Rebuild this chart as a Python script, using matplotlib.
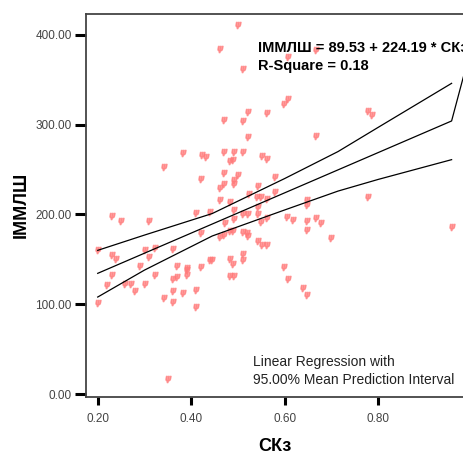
import matplotlib
matplotlib.use('Agg')
import matplotlib.pyplot as plt

plt.rcParams['font.family'] = ['Liberation Sans', 'DejaVu Sans']

# scatter values (СКз, ІММЛШ)
ck = [0.501, 0.462, 0.511, 0.608, 0.668, 0.470, 0.607, 0.598, 0.522, 0.562,
      0.511, 0.522, 0.668, 0.778, 0.787,
      0.382, 0.423, 0.431, 0.342, 0.421, 0.471, 0.491, 0.511, 0.489, 0.551,
      0.562, 0.483, 0.470, 0.501, 0.491, 0.491, 0.471, 0.462, 0.579, 0.542,
      0.523, 0.580, 0.462, 0.482, 0.541, 0.550, 0.562, 0.648, 0.648, 0.778,
      0.231, 0.250, 0.310, 0.410, 0.441, 0.491, 0.542, 0.473, 0.491, 0.511,
      0.522, 0.542, 0.550, 0.562, 0.604, 0.618, 0.648, 0.668, 0.678, 0.648,
      0.700, 0.957,
      0.421, 0.462, 0.471, 0.482, 0.489, 0.511, 0.519, 0.522, 0.542, 0.551,
      0.562,
      0.200, 0.231, 0.239, 0.302, 0.323, 0.362, 0.309, 0.290, 0.369, 0.390,
      0.421, 0.441, 0.482, 0.490, 0.511, 0.511, 0.444, 0.598, 0.608, 0.639,
      0.647, 0.482, 0.492,
      0.231, 0.219, 0.259, 0.271, 0.280, 0.302, 0.323, 0.342, 0.362, 0.370,
      0.362, 0.362, 0.382, 0.391, 0.390, 0.410, 0.410, 0.200, 0.351]
immlsh = [411, 384, 362, 375, 383, 305, 328, 323, 314, 313,
          304, 286, 287, 315, 311,
          268, 266, 264, 253, 240, 269, 269, 269, 261, 265,
          262, 259, 246, 244, 238, 234, 234, 229, 242, 232,
          223, 225, 216, 214, 219, 219, 217, 216, 210, 219,
          198, 193, 193, 202, 203, 205, 208, 190, 195, 200,
          201, 200, 192, 196, 197, 194, 193, 196, 190, 183,
          174, 186,
          179, 175, 177, 181, 182, 180, 179, 176, 170, 166,
          166,
          160, 155, 150, 160, 163, 162, 153, 143, 143, 140,
          141, 149, 150, 145, 156, 149, 149, 141, 128, 118,
          110, 131, 131,
          133, 121, 122, 123, 115, 122, 133, 107, 128, 130,
          115, 102, 112, 133, 138, 116, 97, 101, 17]

# fit line and 95% mean prediction interval, read at a few x positions
fit_x = [0.200, 0.957, 1.000]
fit_y = [134.4, 304.1, 388.0]
band_x = [0.200, 0.300, 0.445, 0.600, 0.714, 0.800, 0.957]
band_upper = [160, 177, 201, 240, 270, 297, 346]
band_lower = [108, 138, 176, 205, 226, 239, 261]

xticks = [0.2, 0.4, 0.6, 0.8]
yticks = [0, 100, 200, 300, 400]

fig = plt.figure(figsize=(4.64, 4.55), dpi=100)
ax = fig.add_axes([0.1847, 0.1281, 0.8175, 0.8411])

ax.plot(ck, immlsh, linestyle='none', marker='$\\psi$', markersize=4.5,
        color='#ff7a7a', alpha=0.75)
ax.plot(fit_x, fit_y, color='black', lw=0.9)
ax.plot(band_x, band_upper, color='black', lw=0.9)
ax.plot(band_x, band_lower, color='black', lw=0.9)

ax.set_xlim(0.1743, 0.9857)
ax.set_ylim(-3.0, 423.2)
ax.set_xticks(xticks)
ax.set_xticklabels(['%.2f' % v for v in xticks])
ax.set_yticks(yticks)
ax.set_yticklabels(['%.2f' % v for v in yticks])
ax.tick_params(axis='y', length=8, width=2.2, color='black', pad=2,
               labelsize=8.5, labelcolor='#444444')
ax.tick_params(axis='x', length=6, width=2.2, color='black', pad=6,
               labelsize=8.5, labelcolor='#444444')
for side in ['left', 'bottom', 'top', 'right']:
    ax.spines[side].set_color('#444444')
    ax.spines[side].set_linewidth(1.3)

ax.set_xlabel('СКз', fontsize=13, fontweight='bold', labelpad=9)
ax.set_ylabel('ІММЛШ', fontsize=13, fontweight='bold', labelpad=4)

fig.text(258 / 464, 1 - 47.5 / 455, 'ІММЛШ = 89.53 + 224.19 * СКз',
         fontsize=10.5, fontweight='bold', va='center', ha='left')
fig.text(258 / 464, 1 - 66 / 455, 'R-Square = 0.18',
         fontsize=10.5, fontweight='bold', va='center', ha='left')
fig.text(253 / 464, 1 - 361.7 / 455, 'Linear Regression with',
         fontsize=10, va='center', ha='left', color='#222222')
fig.text(253 / 464, 1 - 380 / 455, '95.00% Mean Prediction Interval',
         fontsize=10, va='center', ha='left', color='#222222')

fig.savefig('out.png', dpi=100)
